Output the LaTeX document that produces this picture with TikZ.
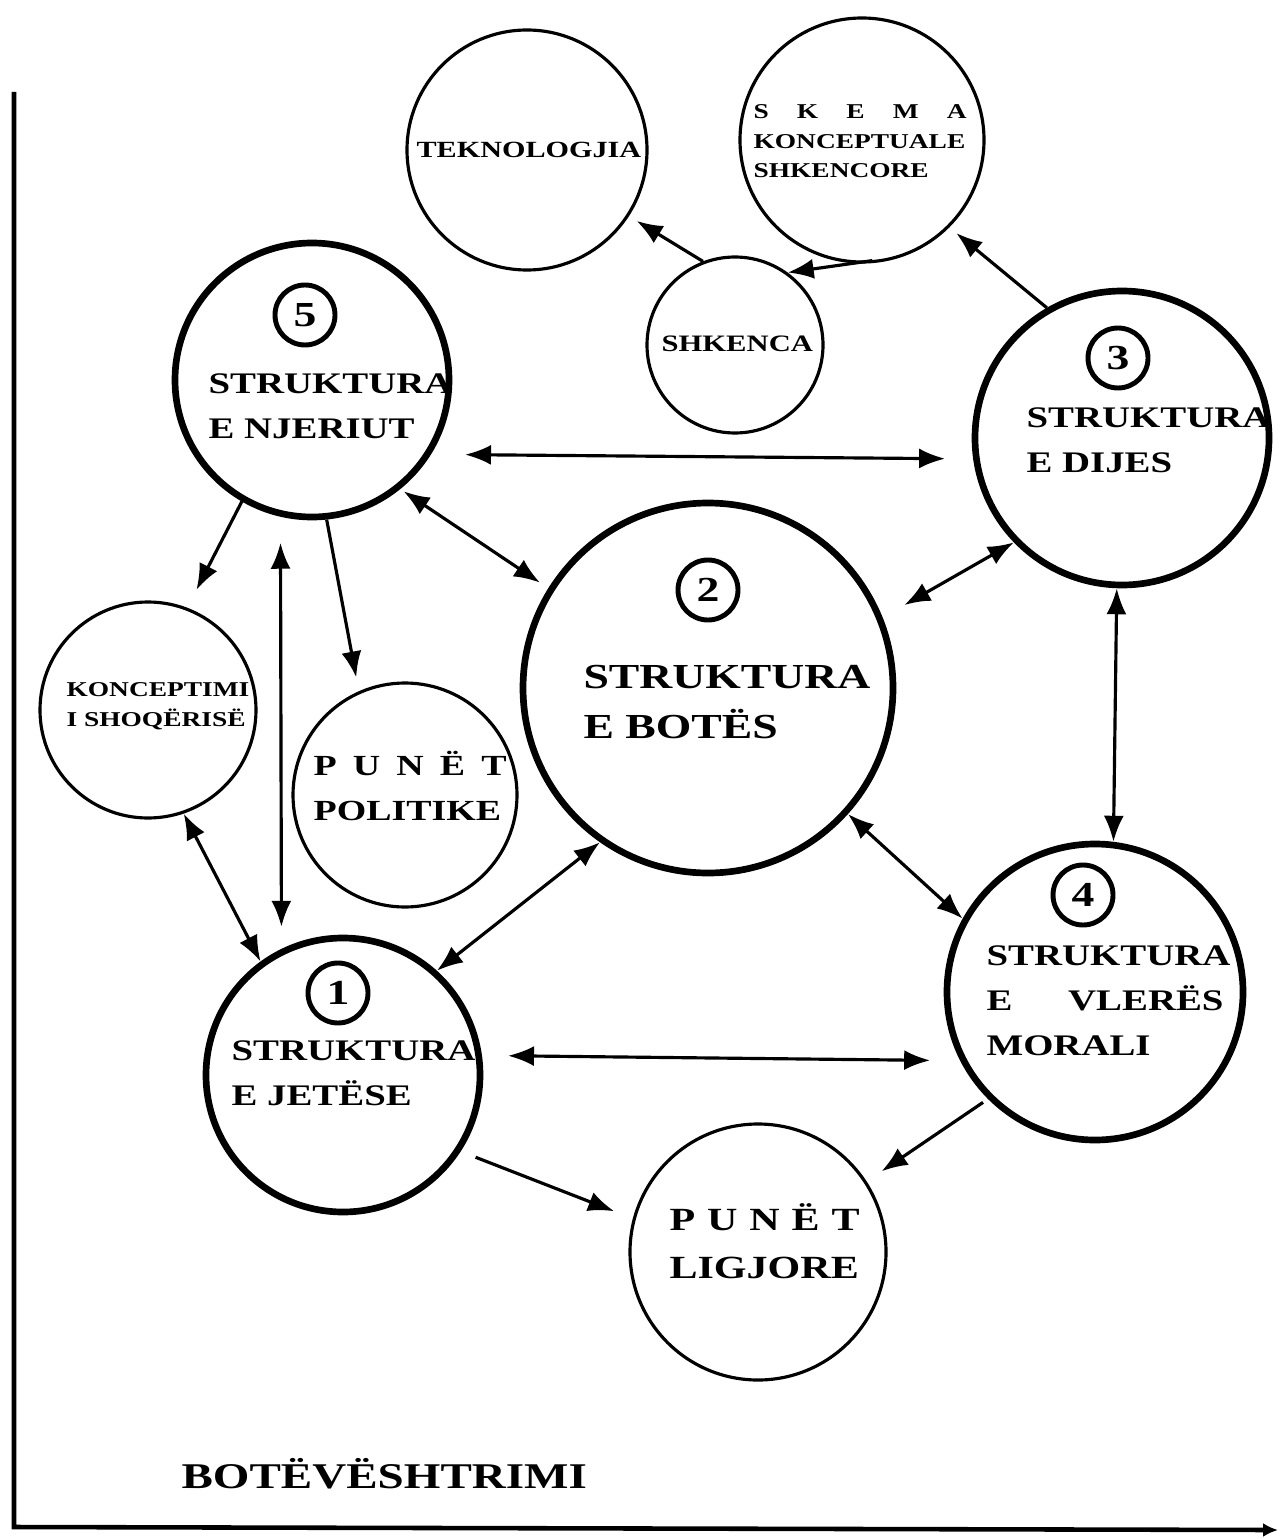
\documentclass[tikz,border=0pt]{standalone}
\usepackage{fontspec}
\newfontfamily\wfont[FakeStretch=1.3]{Liberation Serif}
\usetikzlibrary{arrows.meta}

\begin{document}
\begin{tikzpicture}[>={Latex[length=2.6mm,width=2mm]}, line width=0.9pt]
  \tikzset{
    ring/.style={circle, draw, line width=0.9pt, inner sep=0pt},
    bigring/.style={ring, line width=1.9pt},
    num/.style={circle, draw, line width=1.4pt, minimum size=0.6cm, inner sep=0pt,
      font=\wfont\bfseries\fontsize{10}{12}\selectfont},
    lbl/.style={anchor=base west, inner sep=0pt, align=left},
    big/.style={font=\wfont\bfseries\fontsize{10}{14.2}\selectfont},
    mid/.style={font=\wfont\bfseries\fontsize{8.5}{12.8}\selectfont},
    small/.style={font=\wfont\bfseries\fontsize{6}{8.5}\selectfont},
  }
  \useasboundingbox (0,0) rectangle (12.8,-15.39);

  % axes
  \coordinate (ytop) at (0.14,-0.92);
  \coordinate (orig) at (0.14,-15.27);
  \coordinate (xend) at (12.78,-15.30);
  \draw[line width=1.3pt, -{Latex[length=1.5mm,width=1.4mm]}] (ytop) -- (orig) -- (xend);

  % circles
  \node[ring, minimum size=2.40cm] (tek) at (5.27,-1.50) {};
  \node[ring, minimum size=2.44cm] (skema) at (8.62,-1.40) {};
  \node[ring, minimum size=1.76cm] (shk) at (7.35,-3.45) {};
  \node[bigring, minimum size=2.74cm] (n5) at (3.12,-3.80) {};
  \node[bigring, minimum size=2.94cm] (n3) at (11.22,-4.38) {};
  \node[bigring, minimum size=3.70cm] (n2) at (7.08,-6.88) {};
  \node[ring, minimum size=2.16cm] (shoq) at (1.48,-7.10) {};
  \node[ring, minimum size=2.24cm] (pol) at (4.05,-7.95) {};
  \node[bigring, minimum size=2.96cm] (n4) at (10.95,-9.92) {};
  \node[bigring, minimum size=2.74cm] (n1) at (3.43,-10.75) {};
  \node[ring, minimum size=2.56cm] (lig) at (7.58,-12.52) {};

  % numbers
  \node[num] (c5) at (3.05,-3.15) {5};
  \node[num] (c3) at (11.18,-3.58) {3};
  \node[num] (c2) at (7.08,-5.90) {2};
  \node[num] (c4) at (10.83,-8.95) {4};
  \node[num] (c1) at (3.38,-9.93) {1};

  % labels (base = last line)
  \node[lbl, mid] (t5) at (2.07,-4.38) {STRUKTURA\\E NJERIUT};
  \node[lbl, mid] (t3) at (10.25,-4.72) {STRUKTURA\\E DIJES};
  \node[lbl, big] (t2) at (5.82,-7.38) {STRUKTURA\\E BOTËS};
  \node[lbl, mid] (t4) at (9.85,-10.55) {STRUKTURA\\\makebox[2.37cm][s]{E VLERËS}\\MORALI};
  \node[lbl, mid] (t1) at (2.30,-11.05) {STRUKTURA\\E JETËSE};
  \node[lbl, font=\wfont\bfseries\fontsize{9.2}{13.6}\selectfont] (tlig) at (6.68,-12.78)
    {\makebox[1.9cm][s]{P U N Ë T}\\LIGJORE};
  \node[lbl, font=\wfont\bfseries\fontsize{8.3}{12.8}\selectfont] (tpol) at (3.12,-8.20)
    {\makebox[1.93cm][s]{P U N Ë T}\\POLITIKE};
  \node[lbl, small] (tshoq) at (0.65,-7.26) {KONCEPTIMI\\I SHOQËRISË};
  \node[lbl, font=\wfont\bfseries\fontsize{6.6}{8.5}\selectfont] (ttek) at (4.15,-1.58) {TEKNOLOGJIA};
  \node[lbl, small] (tskema) at (7.52,-1.78) {\makebox[2.13cm][s]{S K E M A}\\KONCEPTUALE\\SHKENCORE};
  \node[lbl, font=\wfont\bfseries\fontsize{6.7}{8.5}\selectfont] (tshk) at (6.60,-3.52) {SHKENCA};
  \node[lbl, font=\wfont\bfseries\fontsize{10.3}{12}\selectfont] (title) at (1.80,-14.88) {BOTËVËSHTRIMI};

  % connectors
  \draw[<->, shorten <=0.34cm, shorten >=0.28cm] (n5.-32) -- (n3.-172);
  \draw[<->, shorten <=0.04cm, shorten >=0.1cm] (n5.-51) -- (n2.148);
  \draw[<->, shorten >=0.25cm] (n3.-136) -- (n2.22);
  \draw[<->] (n3.-92) -- (n4.83);
  \draw[<->] (n2.-42) -- (n4.151);
  \draw[<->] (n2.-125) -- (n1.48);
  \draw[<->, shorten <=0.26cm, shorten >=0.3cm] (n1.8) -- (n4.-153);
  \draw[<->, shorten <=0.26cm, shorten >=0.22cm] (n5.-103) -- (n1.116);
  \draw[->, shorten >=0.2cm] (n5.-120) -- (shoq.69);
  \draw[->, shorten >=0.14cm] (n5.-84) -- (pol.114);
  \draw[<->] (shoq.-71) -- (n1.126);
  \draw[->, shorten <=0.16cm, shorten >=0.2cm] (n1.-33) -- (lig.165);
  \draw[->, shorten <=0.06cm, shorten >=0.18cm] (n4.-135) -- (lig.33);
  \draw[->, shorten >=0.09cm] (n3.120) -- (skema.-45);
  \draw[->, shorten >=0.09cm] (shk.111) -- (tek.-33);
  \draw[->, shorten <=-0.19cm] (skema.-94) -- (shk.54);
\end{tikzpicture}
\end{document}
